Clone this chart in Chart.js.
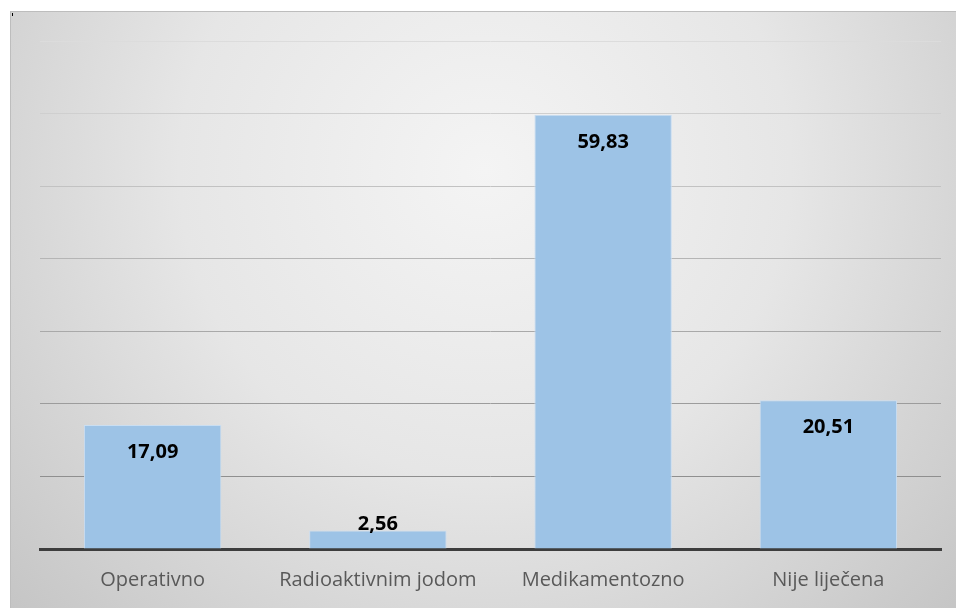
<!DOCTYPE html>
<html>
<head>
<meta charset="utf-8">
<script src="https://cdn.jsdelivr.net/npm/chart.js@4.4.0/dist/chart.umd.min.js"></script>
<style>
  html, body { margin: 0; padding: 0; background: #fff; }
  #wrap { width: 956px; height: 608px; }
</style>
</head>
<body>
<div id="wrap"><canvas id="barChart"></canvas></div>
<script>
// Data
const categories = ['Operativno', 'Radioaktivnim jodom', 'Medikamentozno', 'Nije liječena'];
const values = [17.09, 2.56, 59.83, 20.51];
const yTicks = [0, 10, 20, 30, 40, 50, 60, 70];

// grey panel with soft radial light, drawn behind everything
const panelBackground = {
    id: 'panelBackground',
    beforeDraw(chart) {
        const ctx = chart.ctx;
        ctx.save();
        ctx.fillStyle = '#ffffff';
        ctx.fillRect(0, 0, chart.width, chart.height);
        const g = ctx.createRadialGradient(485, 170, 0, 485, 170, 680);
        g.addColorStop(0, '#f4f4f4');
        g.addColorStop(0.45, '#e6e6e6');
        g.addColorStop(1, '#c2c2c2');
        ctx.fillStyle = g;
        ctx.fillRect(10, 11, chart.width - 10, chart.height - 11);
        ctx.fillStyle = '#bdbdbd';
        ctx.fillRect(10, 11, chart.width - 10, 1);
        ctx.fillRect(10, 11, 1, chart.height - 11);
        ctx.fillStyle = '#000';
        ctx.fillRect(12, 13, 1, 3);
        ctx.restore();
    }
};

// value labels: inside the top of the bar, above it when the bar is short
const valueLabels = {
    id: 'valueLabels',
    afterDatasetsDraw(chart) {
        const ctx = chart.ctx;
        const meta = chart.getDatasetMeta(0);
        ctx.save();
        ctx.font = 'bold 20px "Open Sans", sans-serif';
        ctx.fillStyle = '#000';
        ctx.textAlign = 'center';
        ctx.textBaseline = 'middle';
        meta.data.forEach((bar, i) => {
            const txt = values[i].toFixed(2).replace('.', ',');
            const h = bar.base - bar.y;
            const y = h > 45 ? bar.y + 27 : bar.y - 6;
            ctx.fillText(txt, bar.x, y);
        });
        ctx.restore();
    }
};

function gridShade(ctx) {
    const v = ctx.tick ? ctx.tick.value : 0;
    // lines get darker toward the bottom
    const c = Math.round(130 + (v / 70) * 90);
    return 'rgb(' + c + ',' + c + ',' + c + ')';
}

window.onload = function() {
    new Chart(document.getElementById('barChart'), {
        type: 'bar',
        data: {
            labels: categories,
            datasets: [{
                data: values,
                backgroundColor: '#9dc3e6',
                borderColor: '#c9def2',
                borderWidth: 1,
                categoryPercentage: 1,
                barPercentage: 0.61
            }]
        },
        options: {
            responsive: true,
            maintainAspectRatio: false,
            animation: false,
            layout: { padding: { left: 40, right: 15, top: 41, bottom: 0 } },
            plugins: {
                legend: { display: false },
                tooltip: { enabled: false }
            },
            scales: {
                x: {
                    grid: { display: false, drawTicks: false },
                    border: { display: true, color: '#3d3d3d', width: 3 },
                    ticks: {
                        padding: 19,
                        color: '#595959',
                        font: { family: '"Open Sans", sans-serif', size: 20 }
                    },
                    afterFit(axis) {
                        axis.height = 59;
                    }
                },
                y: {
                    min: 0,
                    max: 70,
                    afterBuildTicks(axis) {
                        axis.ticks = yTicks.map(v => ({ value: v }));
                    },
                    ticks: { display: false },
                    border: { display: false },
                    grid: { color: gridShade, lineWidth: 1, drawTicks: false }
                }
            }
        },
        plugins: [panelBackground, valueLabels]
    });
};
</script>
</body>
</html>
